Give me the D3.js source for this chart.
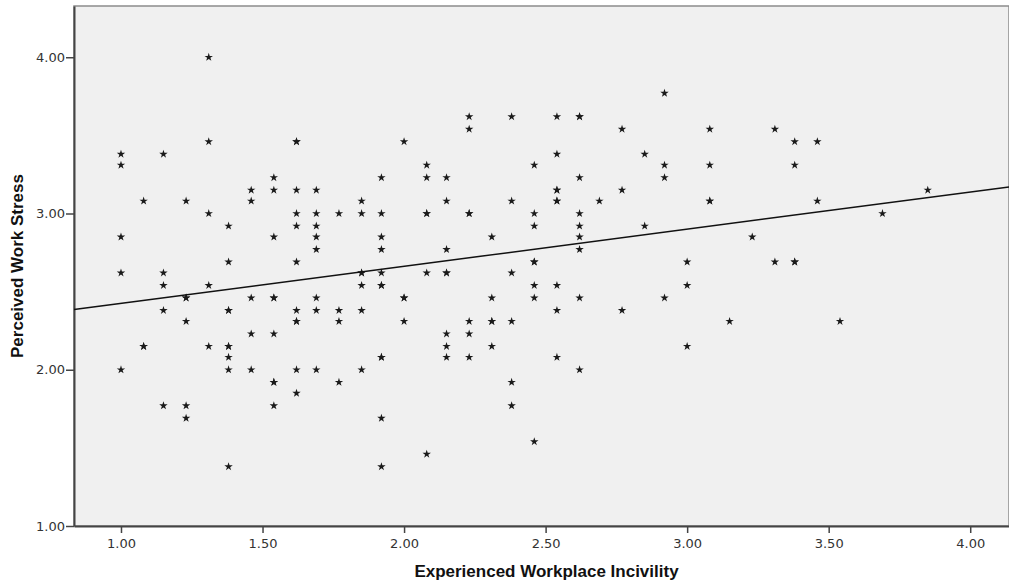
<!DOCTYPE html>
<html>
<head>
<meta charset="utf-8">
<script src="https://cdn.jsdelivr.net/npm/d3@7"></script>
<style>
  body { margin: 0; background: #fff; }
  .tick text { font-family: "DejaVu Sans", Verdana, sans-serif; font-size: 13px; fill: #333; }
  .title { font-family: "Liberation Sans", Arial, sans-serif; font-weight: bold; font-size: 17px; fill: #111; }
</style>
</head>
<body>
<svg id="chart" width="1009" height="584"></svg>
<script>
// incivility levels (x) and the stress scores seen at each level (y)
var incivilityLevels = [1.00, 1.08, 1.15, 1.23, 1.31, 1.38, 1.46, 1.54, 1.62, 1.69, 1.77, 1.85, 1.92,
    2.00, 2.08, 2.15, 2.23, 2.31, 2.38, 2.46, 2.54, 2.62, 2.69, 2.77, 2.85, 2.92,
    3.00, 3.08, 3.15, 3.23, 3.31, 3.38, 3.46, 3.54, 3.69, 3.85];

var stressByLevel = [
    [3.38, 3.31, 2.85, 2.62, 2.00],
    [3.08, 2.15, 2.15],
    [3.38, 2.62, 2.54, 2.38, 1.77],
    [3.08, 2.46, 2.46, 2.31, 1.77, 1.69],
    [4.00, 3.46, 3.00, 2.54, 2.15],
    [2.92, 2.69, 2.38, 2.38, 2.15, 2.15, 2.08, 2.00, 1.38],
    [3.15, 3.08, 2.46, 2.23, 2.00],
    [3.23, 3.15, 2.85, 2.46, 2.46, 2.23, 1.92, 1.92, 1.77],
    [3.46, 3.46, 3.15, 3.00, 2.92, 2.69, 2.38, 2.31, 2.31, 2.00, 1.85],
    [3.15, 3.00, 2.92, 2.85, 2.77, 2.46, 2.38, 2.00],
    [3.00, 2.38, 2.31, 1.92],
    [3.08, 3.00, 2.62, 2.62, 2.54, 2.38, 2.00],
    [3.23, 3.00, 2.85, 2.77, 2.62, 2.54, 2.54, 2.08, 2.08, 1.69, 1.38],
    [3.46, 2.46, 2.46, 2.31],
    [3.31, 3.23, 3.00, 3.00, 2.62, 1.46],
    [3.23, 3.08, 2.77, 2.62, 2.62, 2.23, 2.15, 2.08],
    [3.62, 3.54, 3.00, 3.00, 2.31, 2.23, 2.08],
    [2.85, 2.46, 2.31, 2.31, 2.15],
    [3.62, 3.08, 2.62, 2.31, 1.92, 1.77],
    [3.31, 3.00, 2.92, 2.69, 2.69, 2.54, 2.46, 1.54],
    [3.62, 3.38, 3.15, 3.15, 3.08, 3.08, 2.54, 2.38, 2.08],
    [3.62, 3.62, 3.23, 3.00, 2.92, 2.85, 2.77, 2.46, 2.00],
    [3.08],
    [3.54, 3.15, 2.38],
    [3.38, 2.92],
    [3.77, 3.31, 3.23, 2.46],
    [2.69, 2.54, 2.15],
    [3.54, 3.31, 3.08, 3.08],
    [2.31],
    [2.85],
    [3.54, 2.69],
    [3.46, 3.31, 2.69, 2.69],
    [3.46, 3.08],
    [2.31],
    [3.00],
    [3.15]
];

var xTicks = [1.00, 1.50, 2.00, 2.50, 3.00, 3.50, 4.00];
var yTicks = [1.00, 2.00, 3.00, 4.00];

// fit line: stress = a + b * incivility
var fitIntercept = 2.187;
var fitSlope = 0.2376;

var svg = d3.select("#chart");
var plotL = 74, plotR = 1009, plotT = 6, plotB = 526;

var x = d3.scaleLinear().domain([0.834, 4.137]).range([plotL, plotR]);
var y = d3.scaleLinear().domain([1, 4.328]).range([plotB, plotT]);

//flatten into points
var points = [];
incivilityLevels.forEach(function (lv, i) {
    stressByLevel[i].forEach(function (s) {
        points.push({ x: lv, y: s });
    });
});

//plot background + frame
svg.append("rect")
    .attr("x", plotL)
    .attr("y", plotT)
    .attr("width", plotR - plotL)
    .attr("height", plotB - plotT)
    .attr("fill", "#f0f0f0")
    .attr("stroke", "#8c8c8c")
    .attr("stroke-width", 1.5);

//axes
var xAxis = svg.append("g")
    .attr("transform", "translate(0," + plotB + ")")
    .call(d3.axisBottom(x)
        .tickValues(xTicks)
        .tickFormat(d3.format(".2f"))
        .tickSize(7)
        .tickPadding(6)
        .tickSizeOuter(0));

var yAxis = svg.append("g")
    .attr("transform", "translate(" + plotL + ",0)")
    .call(d3.axisLeft(y)
        .tickValues(yTicks)
        .tickFormat(d3.format(".2f"))
        .tickSize(8)
        .tickPadding(1)
        .tickSizeOuter(0));

svg.selectAll(".domain").attr("stroke", "#444").attr("stroke-width", 2);
svg.selectAll(".tick line").attr("stroke", "#444").attr("stroke-width", 1.5);

//stars
var star = d3.symbol().type(d3.symbolStar).size(22);

svg.append("g")
    .selectAll("path")
    .data(points)
    .enter()
    .append("path")
    .attr("transform", function (d) {
        return "translate(" + x(d.x) + "," + y(d.y) + ")";
    })
    .attr("d", star)
    .attr("fill", "#1a1a1a");

//fit line across the plot
var x0 = x.domain()[0], x1 = x.domain()[1];
svg.append("line")
    .attr("x1", x(x0))
    .attr("y1", y(fitIntercept + fitSlope * x0))
    .attr("x2", x(x1))
    .attr("y2", y(fitIntercept + fitSlope * x1))
    .attr("stroke", "#111")
    .attr("stroke-width", 1.5);

//titles
svg.append("text")
    .attr("class", "title")
    .attr("x", (plotL + plotR) / 2 + 5)
    .attr("y", 577)
    .attr("text-anchor", "middle")
    .text("Experienced Workplace Incivility");

svg.append("text")
    .attr("class", "title")
    .attr("transform", "translate(23," + (plotT + plotB) / 2 + ")rotate(-90)")
    .attr("text-anchor", "middle")
    .text("Perceived Work Stress");
</script>
</body>
</html>
